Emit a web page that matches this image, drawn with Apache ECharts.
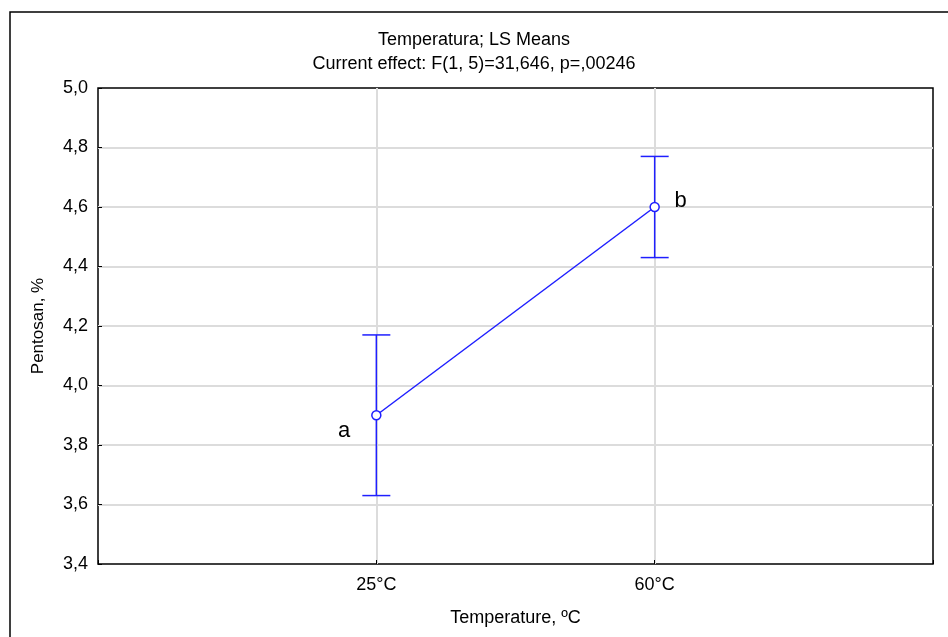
<!DOCTYPE html>
<html>
<head>
<meta charset="utf-8">
<script src="https://cdn.jsdelivr.net/npm/echarts@6/dist/echarts.min.js"></script>
<style>
html, body { margin: 0; padding: 0; background: #fff; }
#main { width: 948px; height: 637px; }
</style>
</head>
<body>
<div id="main"></div>
<script>
// LS means with error bars
var categories = ['25°C', '60°C'];
var means = [3.90, 4.60];
var lower = [3.63, 4.43];
var upper = [4.17, 4.77];
var letters = ['a', 'b'];

(function(){

    var chart = echarts.init(document.getElementById('main'));
    var font = 'Liberation Sans, Arial, sans-serif';
    var blue = '#1f1fff';

    var pointData = means.map(function(m, i){
        return {
            value: [i + 1, m],
            label: {
                show: true,
                formatter: letters[i],
                position: i === 0 ? [-33, 10] : [25, -12],
                fontSize: 22,
                color: '#000',
                fontFamily: font
            }
        };
    });
    var errData = means.map(function(m, i){
        return [i + 1, lower[i], upper[i]];
    });

    option = {
        animation: false,
        title: {
            text: 'Temperatura; LS Means\nCurrent effect: F(1, 5)=31,646, p=,00246',
            left: 'center',
            top: 23,
            textStyle: {
                fontSize: 18,
                fontWeight: 'normal',
                color: '#000',
                fontFamily: font,
                lineHeight: 24
            }
        },
        graphic: [{
            type: 'rect',
            shape: { x: 10, y: 12, width: 1000, height: 1000 },
            style: { fill: 'none', stroke: '#000', lineWidth: 1.5 },
            silent: true
        }],
        grid: {
            left: 98,
            right: 15,
            top: 88,
            bottom: 73,
            show: true,
            borderColor: '#000',
            borderWidth: 1.5
        },
        xAxis: {
            type: 'value',
            min: 0,
            max: 3,
            interval: 1,
            name: 'Temperature, ºC',
            nameLocation: 'middle',
            nameGap: 45,
            nameTextStyle: { fontSize: 18, color: '#000', fontFamily: font },
            axisLine: { show: false },
            axisTick: {
                show: true, inside: true, length: 4,
                lineStyle: { color: '#000' }
            },
            axisLabel: {
                margin: 12,
                fontSize: 18,
                color: '#000',
                fontFamily: font,
                formatter: function(v){ return categories[v - 1] || ''; }
            },
            splitLine: {
                showMinLine: false,
                showMaxLine: false,
                lineStyle: { color: '#dcdcdc', width: 2 }
            }
        },
        yAxis: {
            type: 'value',
            min: 3.4,
            max: 5.0,
            interval: 0.2,
            name: 'Pentosan, %',
            nameLocation: 'middle',
            nameGap: 51,
            nameTextStyle: { fontSize: 17, color: '#000', fontFamily: font },
            axisLine: { show: false },
            axisTick: {
                show: true, inside: true, length: 4,
                lineStyle: { color: '#000' }
            },
            axisLabel: {
                margin: 10,
                fontSize: 18,
                color: '#000',
                fontFamily: font,
                formatter: function(v){ return v.toFixed(1).replace('.', ','); }
            },
            splitLine: {
                showMinLine: false,
                showMaxLine: false,
                lineStyle: { color: '#dcdcdc', width: 2 }
            }
        },
        series: [
            {
                type: 'custom',
                z: 3,
                renderItem: function(params, api){
                    var x = api.value(0);
                    var lo = api.coord([x, api.value(1)]);
                    var hi = api.coord([x, api.value(2)]);
                    var w = 14;
                    var st = { stroke: blue, lineWidth: 1.5 };
                    return {
                        type: 'group',
                        children: [
                            { type: 'line', shape: { x1: lo[0], y1: lo[1], x2: hi[0], y2: hi[1] }, style: st },
                            { type: 'line', shape: { x1: lo[0] - w, y1: lo[1], x2: lo[0] + w, y2: lo[1] }, style: st },
                            { type: 'line', shape: { x1: hi[0] - w, y1: hi[1], x2: hi[0] + w, y2: hi[1] }, style: st }
                        ]
                    };
                },
                data: errData
            },
            {
                type: 'line',
                z: 4,
                data: pointData,
                symbol: 'circle',
                symbolSize: 9,
                lineStyle: { color: blue, width: 1.5 },
                itemStyle: { color: '#fff', borderColor: blue, borderWidth: 1.5 }
            }
        ]
    };

    chart.setOption(option);
})();
</script>
</body>
</html>
